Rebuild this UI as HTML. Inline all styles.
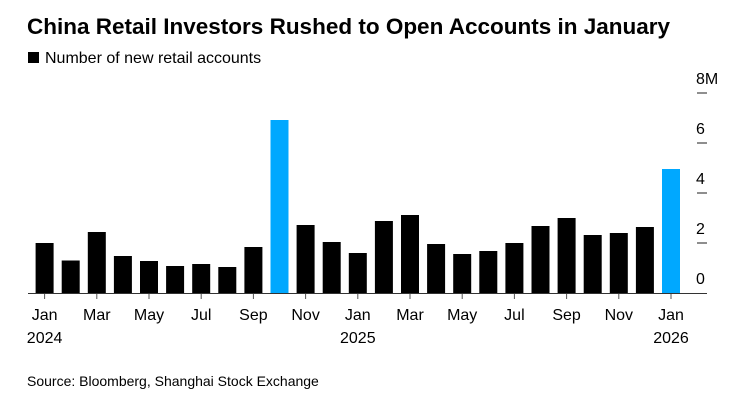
<!DOCTYPE html>
<html><head><meta charset="utf-8"><style>
body{margin:0;background:#fff;width:747px;height:400px;overflow:hidden;font-family:"Liberation Sans",Arial,sans-serif}
</style></head><body>
<svg width="747" height="400" xmlns="http://www.w3.org/2000/svg" font-family="Liberation Sans, Arial, sans-serif">
<text x="27" y="34" font-size="22.5" font-weight="bold" fill="#000">China Retail Investors Rushed to Open Accounts in January</text>
<rect x="28" y="52" width="11" height="11" fill="#000"/>
<text x="45" y="63" font-size="16" fill="#000">Number of new retail accounts</text>
<g font-size="16" fill="#000">
<text x="696" y="84">8M</text><text x="696" y="134">6</text><text x="696" y="184">4</text><text x="696" y="234">2</text><text x="696" y="284">0</text>
</g>
<g stroke="#444" stroke-width="1.2">
<line x1="697" y1="93" x2="707" y2="93"/><line x1="697" y1="143" x2="707" y2="143"/><line x1="697" y1="193" x2="707" y2="193"/><line x1="697" y1="243" x2="707" y2="243"/>
</g>
<g id="bars"></g>
<line x1="28" y1="293.5" x2="707" y2="293.5" stroke="#333" stroke-width="1"/>
<g id="ticks" stroke="#555" stroke-width="1"></g>
<g font-size="16" fill="#000" text-anchor="middle">
<text x="44.6" y="320">Jan</text><text x="44.6" y="343">2024</text>
<text x="96.8" y="320">Mar</text><text x="149" y="320">May</text><text x="201.2" y="320">Jul</text><text x="253.4" y="320">Sep</text><text x="305.6" y="320">Nov</text>
<text x="357.8" y="320">Jan</text><text x="357.8" y="343">2025</text>
<text x="410" y="320">Mar</text><text x="462.2" y="320">May</text><text x="514.4" y="320">Jul</text><text x="566.6" y="320">Sep</text><text x="618.8" y="320">Nov</text>
<text x="671" y="320">Jan</text><text x="671" y="343">2026</text>
</g>
<text x="27" y="386" font-size="14" fill="#000">Source: Bloomberg, Shanghai Stock Exchange</text>
<script>
var v=[2.0,1.3,2.44,1.48,1.28,1.08,1.16,1.04,1.84,6.92,2.72,2.04,1.6,2.88,3.12,1.96,1.56,1.68,2.0,2.68,3.0,2.32,2.4,2.64,4.96];
var g=document.getElementById('bars'),t=document.getElementById('ticks'),ns='http://www.w3.org/2000/svg';
v.forEach(function(d,i){var c=44.6+i*26.1;var r=document.createElementNS(ns,'rect');
r.setAttribute('x',c-9);r.setAttribute('width',18);r.setAttribute('y',293-d*25);r.setAttribute('height',d*25);
r.setAttribute('fill',(i==9||i==24)?'#00a8ff':'#000');g.appendChild(r);
if(i%2==0){var l=document.createElementNS(ns,'line');l.setAttribute('x1',c);l.setAttribute('x2',c);l.setAttribute('y1',294);l.setAttribute('y2',299);t.appendChild(l);}});
</script>
</svg>
</body></html>
